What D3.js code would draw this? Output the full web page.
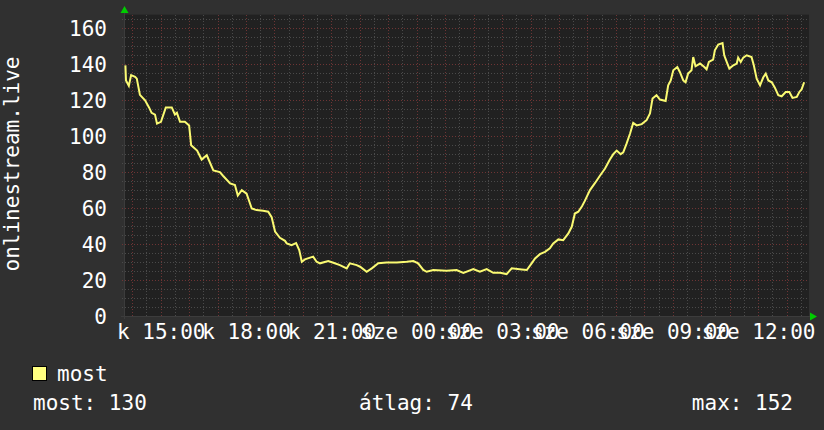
<!DOCTYPE html>
<html>
<head>
<meta charset="utf-8">
<script src="https://cdn.jsdelivr.net/npm/d3@7"></script>
<style>
  html, body { margin: 0; padding: 0; background: #303030; }
  svg { display: block; }
  text { font-family: "DejaVu Sans Mono", monospace; fill: #ffffff; }
</style>
</head>
<body>
<svg id="chart" width="824" height="430"></svg>
<script>
// ---- data (hours since day-1 midnight, values) ----
const hours = [13.76,13.78,13.88,13.96,14.10,14.16,14.27,14.45,14.59,14.68,14.80,14.87,15.01,15.18,15.39,15.50,15.57,15.68,15.85,16.00,
16.07,16.28,16.44,16.62,16.85,17.08,17.19,17.44,17.61,17.71,17.85,18.02,18.20,18.37,18.60,18.78,18.90,19.02,19.19,19.37,
19.43,19.60,19.76,19.87,19.96,20.07,20.36,20.48,20.60,20.89,21.07,21.30,21.54,21.65,21.89,22.01,22.24,22.42,22.65,22.94,
23.30,23.65,23.88,24.05,24.23,24.35,24.58,25.05,25.40,25.64,25.99,26.22,26.46,26.69,26.93,27.16,27.34,27.69,27.87,28.04,
28.16,28.33,28.51,28.68,28.80,28.98,29.15,29.33,29.45,29.56,29.68,29.81,29.91,30.09,30.27,30.44,30.62,30.79,30.91,31.03,
31.17,31.26,31.38,31.50,31.61,31.73,31.91,32.08,32.20,32.29,32.43,32.55,32.75,32.84,32.93,33.02,33.16,33.25,33.37,33.45,
33.54,33.66,33.72,33.80,33.96,34.11,34.19,34.27,34.42,34.48,34.60,34.75,34.81,34.92,34.99,35.13,35.25,35.30,35.39,35.48,
35.60,35.77,35.85,35.95,36.07,36.18,36.27,36.36,36.48,36.59,36.71,36.83,36.97,37.10,37.21,37.36,37.45,37.53,37.62];
const values = [139.4,131,128,134,133,132,123,120,116,113,112,107,108,116,116,112,113,108,108,106,
95,92,87,89.4,81,80,78,73.7,72.8,67,70,68,59.8,58.9,58.5,58,55,47,43.5,41.8,
40.4,39.4,40.5,36.7,30.2,31.5,33,30.2,29.3,30.6,29.6,28.3,26.5,29.3,28.3,27.4,24.6,26.5,29.3,29.8,
29.8,30.2,30.6,29.3,25.6,24.6,25.6,25.2,25.6,24,26.1,24.6,26.1,24,24,23.3,26.5,25.9,25.6,29.3,
32,34.4,35.7,37.6,40.4,42.6,42.2,45.9,49.6,57,58,61,64,70,74,78,82,87,90,92,
90,91,96,101.5,107.4,106,106.7,108.9,112.6,121,122.8,120.4,119.6,128.3,131,136.7,138.5,135.7,131,130,
134.8,136.7,144,138.9,140.4,138.5,137.2,141.3,142.6,147.8,151,151.8,145,140.4,137.6,139.4,140.4,143.7,141.3,143.7,
145,144,139.4,132,128.3,132.6,134.8,131,130,127,122.8,122.2,124.6,124.6,121.3,121.8,124.6,126,130];

const seriesName = "most";
const yTicks = [0,20,40,60,80,100,120,140,160];
const xTickHours = [15,18,21,24,27,30,33,36];
const xTickLabels = ["k 15:00","k 18:00","k 21:00","sze 00:00","sze 03:00","sze 06:00","sze 09:00","sze 12:00"];
const axisTitle = "onlinestream.live";
const statLabels = ["most: 130", "átlag: 74", "max: 152"];

// ---- layout ----
const L = 124, R = 809, B = 316;
const x = d3.scaleLinear().domain([13.71, 37.79]).range([L, R]);
const y = d3.scaleLinear().domain([0, 160]).range([B, 28.3]);
const yTop = 167.6;

const svg = d3.select("#chart");
svg.append("rect").attr("width", 824).attr("height", 430).attr("fill", "#303030");
svg.append("rect").attr("x", L).attr("y", y(yTop)).attr("width", R - L).attr("height", B - y(yTop)).attr("fill", "#212121");

const grid = svg.append("g").attr("shape-rendering", "crispEdges");
const minorColor = "#4a4a4a", majorColor = "#6e3434";
// minor horizontal
grid.selectAll(".hmin").data(d3.range(0, yTop, 5).filter(v => v % 20 !== 0)).join("line")
  .attr("x1", L - 2).attr("x2", R).attr("y1", d => Math.round(y(d)) + 0.5).attr("y2", d => Math.round(y(d)) + 0.5)
  .attr("stroke", minorColor).attr("stroke-dasharray", "1,2");
// minor vertical
grid.selectAll(".vmin").data(d3.range(14, 37.8, 0.5).filter(h => h % 1 !== 0)).join("line")
  .attr("y1", y(yTop)).attr("y2", B + 2).attr("x1", d => Math.round(x(d)) + 0.5).attr("x2", d => Math.round(x(d)) + 0.5)
  .attr("stroke", minorColor).attr("stroke-dasharray", "1,2");
// major horizontal
grid.selectAll(".hmaj").data(yTicks).join("line")
  .attr("x1", L - 2).attr("x2", R).attr("y1", d => Math.round(y(d)) + 0.5).attr("y2", d => Math.round(y(d)) + 0.5)
  .attr("stroke", majorColor).attr("stroke-dasharray", "1,2");
// major vertical
grid.selectAll(".vmaj").data(d3.range(14, 37.8, 1)).join("line")
  .attr("y1", y(yTop)).attr("y2", B + 2).attr("x1", d => Math.round(x(d)) + 0.5).attr("x2", d => Math.round(x(d)) + 0.5)
  .attr("stroke", majorColor).attr("stroke-dasharray", "1,2");

// axis lines
svg.append("line").attr("x1", L - 3).attr("x2", R + 3).attr("y1", B + 0.5).attr("y2", B + 0.5)
  .attr("stroke", "#3c3c3c").attr("shape-rendering", "crispEdges");
svg.append("line").attr("x1", L + 0.5).attr("x2", L + 0.5).attr("y1", B + 3).attr("y2", 10)
  .attr("stroke", "#3c3c3c").attr("shape-rendering", "crispEdges");
// arrows
svg.append("path").attr("d", `M${L - 3.5},13 L${L + 0.5},6 L${L + 4.5},13 Z`).attr("fill", "#00cc00");
svg.append("path").attr("d", `M${R + 1},${B - 3.5} L${R + 8},${B + 0.5} L${R + 1},${B + 4.5} Z`).attr("fill", "#00cc00");

// axes labels
const yAxis = d3.axisLeft(y).tickValues(yTicks).tickSize(0).tickPadding(17).tickFormat(d3.format("d"));
const gy = svg.append("g").attr("transform", `translate(${L},0)`).call(yAxis);
gy.select(".domain").remove();
gy.selectAll("text").attr("font-size", 21).attr("font-family", "DejaVu Sans Mono").attr("fill", "#fff").attr("dy", "0.36em");

const xAxis = d3.axisBottom(x).tickValues(xTickHours).tickSize(0).tickPadding(8)
  .tickFormat((d, i) => xTickLabels[i]);
const gx = svg.append("g").attr("transform", `translate(0,${B})`).call(xAxis);
gx.select(".domain").remove();
gx.selectAll("text").attr("font-size", 21).attr("font-family", "DejaVu Sans Mono").attr("fill", "#fff").attr("dy", "0.71em");

// axis title
svg.append("text").attr("transform", "translate(19,164) rotate(-90)").attr("text-anchor", "middle")
  .attr("font-size", 21).text(axisTitle);

// line
const line = d3.line().x((d, i) => x(hours[i])).y(d => y(d));
svg.append("path").datum(values).attr("d", line).attr("fill", "none")
  .attr("stroke", "#fafa72").attr("stroke-width", 2).attr("stroke-linejoin", "miter");

// legend
svg.append("rect").attr("x", 32.5).attr("y", 366.5).attr("width", 14).attr("height", 14)
  .attr("fill", "#ffff80").attr("stroke", "#000").attr("stroke-width", 1);
svg.append("text").attr("x", 57).attr("y", 381).attr("font-size", 21).text(seriesName);
svg.append("text").attr("x", 33).attr("y", 410).attr("font-size", 21).text(statLabels[0]);
svg.append("text").attr("x", 359).attr("y", 410).attr("font-size", 21).text(statLabels[1]);
svg.append("text").attr("x", 793).attr("y", 410).attr("font-size", 21).attr("text-anchor", "end").text(statLabels[2]);
</script>
</body>
</html>
